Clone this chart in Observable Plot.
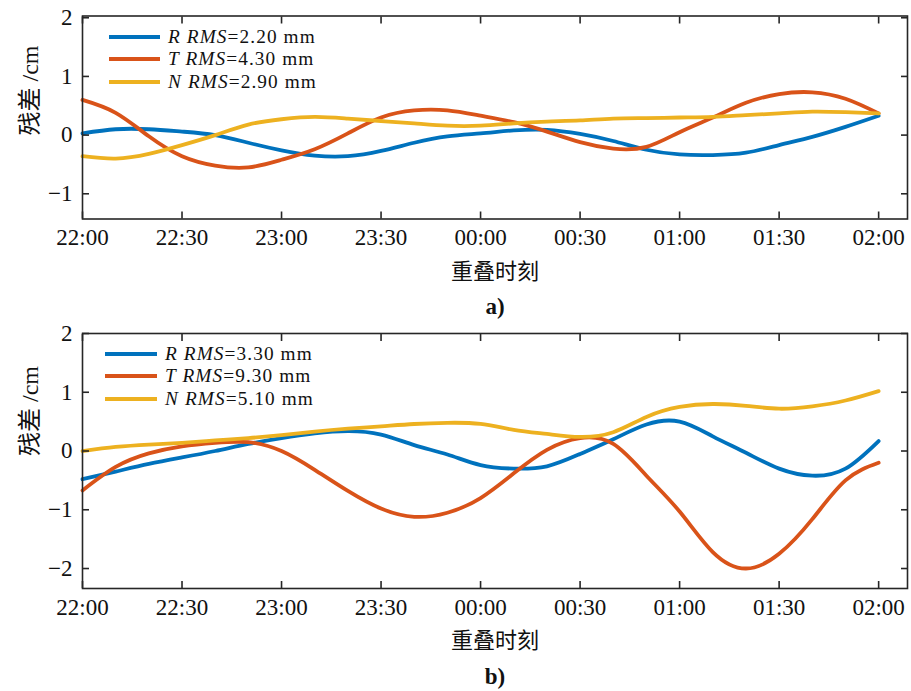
<!DOCTYPE html>
<html><head><meta charset="utf-8">
<script src="https://cdn.jsdelivr.net/npm/d3@7"></script>
<script src="https://cdn.jsdelivr.net/npm/@observablehq/plot@0.6"></script>
<style>
body{margin:0;background:#fff;width:911px;height:691px;overflow:hidden;font-family:"Liberation Serif",serif;}
.panel{position:relative;width:911px;}
.panel svg{display:block;}
.legend{position:absolute;left:0;top:0;font-family:"Liberation Serif",serif;font-size:19.3px;letter-spacing:1.1px;color:#111;}
.row{position:absolute;white-space:nowrap;display:flex;align-items:center;height:20px;line-height:20px;}
.sw{display:inline-block;height:4px;margin-right:8px;}
</style></head><body>
<div id="a" class="panel"></div><div id="b" class="panel"></div>
<script>
// time in minutes after 22:00
const minutes = [0,10,20,30,40,50,60,70,80,90,100,110,120,130,140,150,160,170,180,190,200,210,220,230,240];
const tickMinutes = [0,30,60,90,120,150,180,210,240];
const tickLabels = ["22:00","22:30","23:00","23:30","00:00","00:30","01:00","01:30","02:00"];
const seriesNames = ["R","T","N"];
const colors = ["#0072BD","#D95319","#EDB120"];

// panel a) residuals, cm
const aR = [0.03,0.1,0.1,0.06,0.0,-0.13,-0.26,-0.35,-0.36,-0.27,-0.13,-0.02,0.03,0.08,0.09,0.02,-0.1,-0.25,-0.33,-0.34,-0.3,-0.17,-0.03,0.14,0.33];
const aT = [0.6,0.38,-0.02,-0.36,-0.52,-0.55,-0.42,-0.24,0.03,0.3,0.42,0.42,0.33,0.22,0.06,-0.12,-0.23,-0.2,0.05,0.3,0.55,0.7,0.73,0.62,0.37];
const aN = [-0.36,-0.4,-0.32,-0.17,0.0,0.18,0.27,0.31,0.28,0.24,0.2,0.16,0.16,0.2,0.23,0.25,0.28,0.29,0.3,0.31,0.34,0.37,0.4,0.39,0.37];
const aRMS = ["2.20","4.30","2.90"];

// panel b) residuals, cm
const bR = [-0.48,-0.35,-0.22,-0.11,0.0,0.12,0.22,0.3,0.34,0.28,0.1,-0.06,-0.24,-0.3,-0.26,-0.05,0.2,0.45,0.5,0.25,-0.03,-0.3,-0.42,-0.3,0.17];
const bT = [-0.67,-0.27,-0.04,0.08,0.14,0.15,0.0,-0.32,-0.68,-0.98,-1.12,-1.05,-0.8,-0.38,0.02,0.22,0.12,-0.42,-1.03,-1.72,-2.0,-1.75,-1.16,-0.5,-0.2];
const bN = [0.0,0.07,0.11,0.14,0.18,0.22,0.27,0.33,0.38,0.42,0.46,0.48,0.46,0.36,0.29,0.24,0.32,0.58,0.75,0.8,0.77,0.72,0.76,0.86,1.02];
const bRMS = ["3.30","9.30","5.10"];

const ink = "#262626";
const fmtY = d => d < 0 ? "\u2212" + Math.abs(d) : String(d);

function panel(el, cfg) {
  const series = [cfg.R, cfg.T, cfg.N];
  const lines = series.map((vals, k) =>
    Plot.line(minutes.map((t, i) => ({t, v: vals[i]})), {x: "t", y: "v", stroke: colors[k], strokeWidth: 3.8, curve: "natural"}));
  const chart = Plot.plot({
    width: 911, height: cfg.height,
    marginLeft: 82, marginRight: 4, marginTop: cfg.marginTop, marginBottom: cfg.marginBottom,
    style: {fontFamily: "'Liberation Serif', serif", fontSize: "23px", color: ink, background: "#fff"},
    x: {domain: [0, 248.7]},
    y: {domain: cfg.yDomain},
    marks: [
      ...lines,
      Plot.frame({stroke: ink, strokeWidth: 1.6}),
      Plot.axisX({anchor: "bottom", ticks: tickMinutes, tickFormat: d => tickLabels[tickMinutes.indexOf(d)], tickSize: -7, tickPadding: 17, strokeWidth: 1.6, label: null, fill: "#111"}),
      Plot.axisX({anchor: "top", ticks: tickMinutes, tickFormat: () => "", tickSize: -7, strokeWidth: 1.6, label: null}),
      Plot.axisY({anchor: "left", ticks: cfg.yTicks, tickFormat: fmtY, tickSize: -7, tickPadding: 17, strokeWidth: 1.6, label: null, fill: "#111"}),
      Plot.axisY({anchor: "right", ticks: cfg.yTicks, tickFormat: () => "", tickSize: -7, strokeWidth: 1.6, label: null}),
      Plot.text(["残差 /cm"], {frameAnchor: "left", lineAnchor: "middle", rotate: -90, dx: -52, dy: cfg.yLabelDy, fontSize: 24, fill: "#111", fontFamily: "'Liberation Serif','Noto Sans CJK SC',serif"}),
      Plot.text(["重叠时刻"], {frameAnchor: "bottom", lineAnchor: "middle", dy: cfg.xLabelDy, fontSize: 22, fill: "#111", fontFamily: "'Noto Sans CJK SC',sans-serif"}),
      Plot.text([cfg.tag], {frameAnchor: "bottom", lineAnchor: "middle", dy: cfg.tagDy, fontSize: 23, fontWeight: "bold", fill: "#111", fontFamily: "'Liberation Serif',serif"})
    ]
  });
  el.appendChild(chart);
  const lg = document.createElement("div");
  lg.className = "legend";
  seriesNames.forEach((s, k) => {
    const row = document.createElement("div");
    row.className = "row";
    row.style.left = cfg.legendLeft + "px";
    row.style.top = (cfg.legendTop + k * cfg.legendStep - 10) + "px";
    row.innerHTML = `<span class="sw" style="width:${cfg.swatch}px;background:${colors[k]}"></span><span><i>${s} RMS</i>=${cfg.rms[k]} mm</span>`;
    lg.appendChild(row);
  });
  el.appendChild(lg);
}

panel(document.getElementById("a"), {
  R: aR, T: aT, N: aN, rms: aRMS, tag: "a)",
  height: 322, marginTop: 15.5, marginBottom: 103.5,
  yDomain: [-1.43, 2.03], yTicks: [-1, 0, 1, 2],
  yLabelDy: 18, xLabelDy: 52.5, tagDy: 87.5,
  legendLeft: 109, legendTop: 36.5, legendStep: 22.5, swatch: 51
});
panel(document.getElementById("b"), {
  R: bR, T: bT, N: bN, rms: bRMS, tag: "b)",
  height: 369, marginTop: 11, marginBottom: 103,
  yDomain: [-2.34, 2], yTicks: [-2, -1, 0, 1, 2],
  yLabelDy: -5, xLabelDy: 52, tagDy: 88,
  legendLeft: 105, legendTop: 31.5, legendStep: 22.5, swatch: 52
});
</script>
</body></html>
